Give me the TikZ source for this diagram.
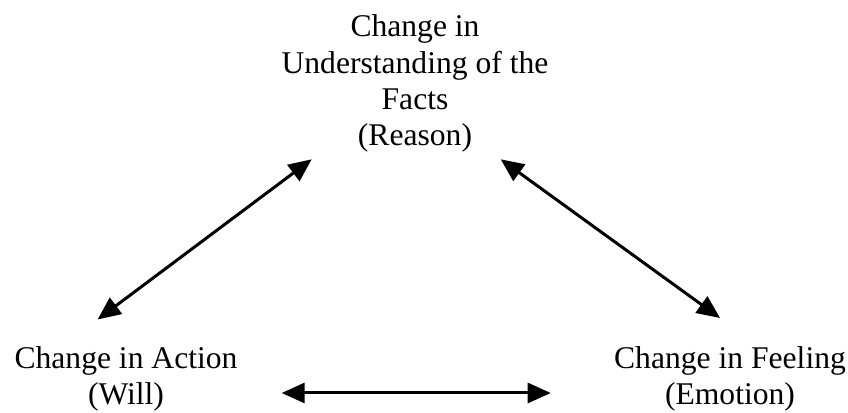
\documentclass[tikz,border=0pt]{standalone}
\usepackage{fontspec}
\setmainfont{Liberation Serif}
\usetikzlibrary{arrows.meta}
\tikzset{
  lbl/.style={inner sep=0pt, align=center, font=\fontsize{31.6}{36.4}\selectfont, text=black},
  dbl/.style={line width=3pt, {Triangle[length=23pt,width=20pt]}-{Triangle[length=23pt,width=20pt]}}
}
\begin{document}
\begin{tikzpicture}[x=1pt,y=1pt]
\useasboundingbox (0,0) rectangle (848,412);
\node[lbl, anchor=base] (reason) at (415,266) {Change in\\Understanding of the\\Facts\\(Reason)};
\node[lbl, anchor=base] (action) at (126,7) {Change in Action\\(Will)};
\node[lbl, anchor=base] (feeling) at (730,7) {Change in Feeling\\(Emotion)};
\coordinate (l1) at (97.6,92.5);
\coordinate (t1) at (311.7,252.7);
\coordinate (t2) at (500.7,252.7);
\coordinate (r1) at (720,94);
\coordinate (b1) at (281.7,19);
\coordinate (b2) at (550.7,19);
\draw[dbl] (l1) -- (t1);
\draw[dbl] (t2) -- (r1);
\draw[dbl] (b1) -- (b2);
\end{tikzpicture}
\end{document}
